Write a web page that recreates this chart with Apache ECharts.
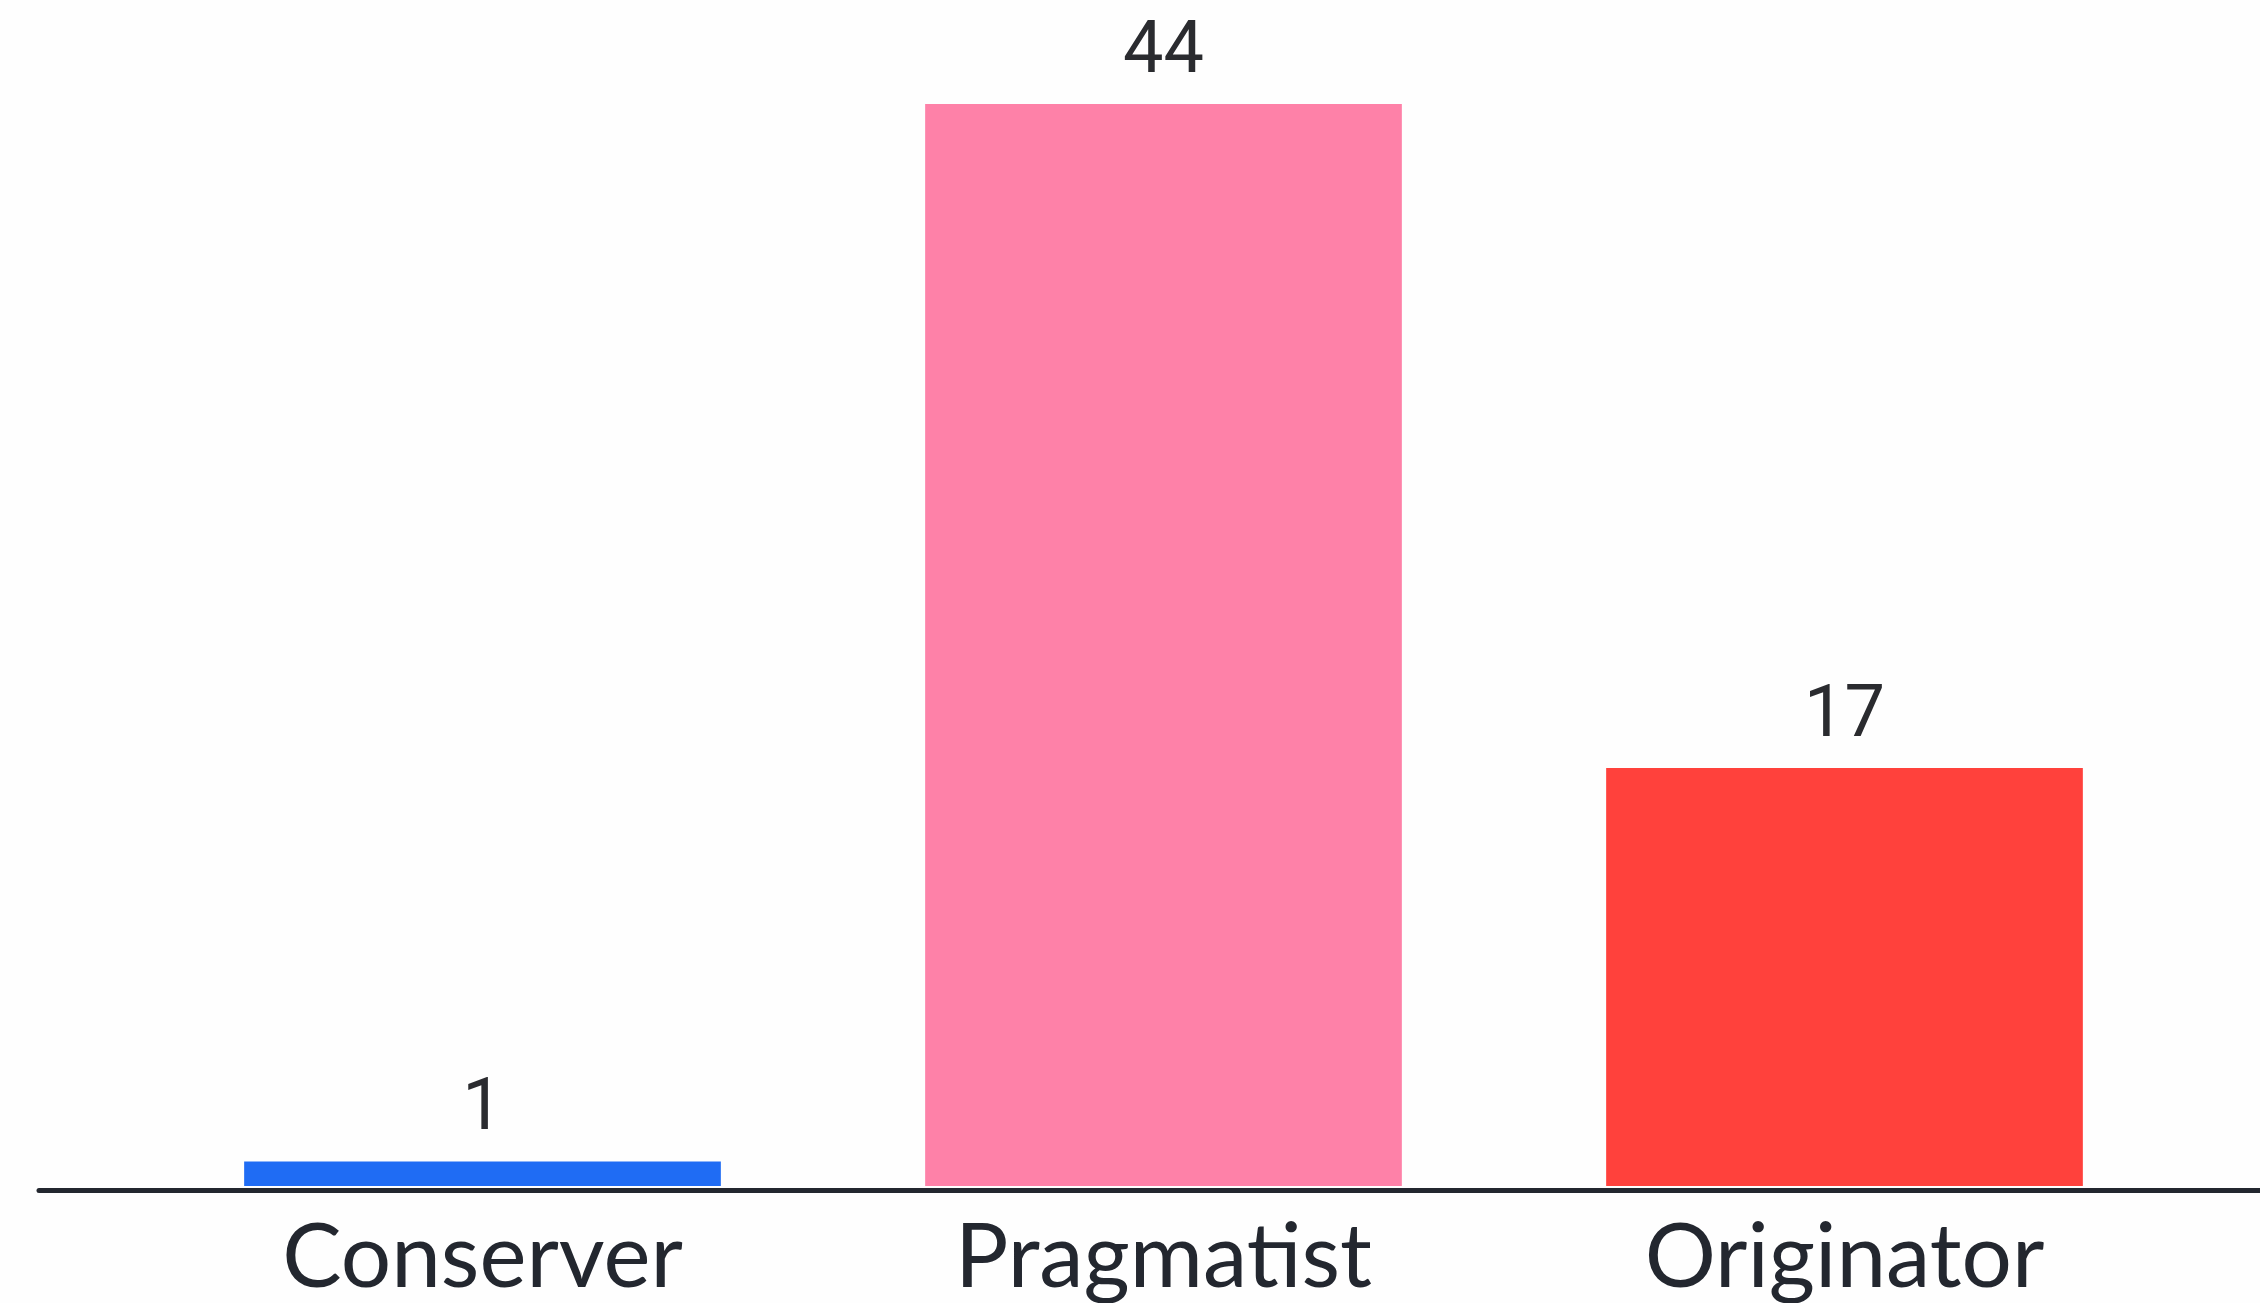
<!DOCTYPE html>
<html><head><meta charset="utf-8">
<script src="https://cdn.jsdelivr.net/npm/echarts@6/dist/echarts.min.js"></script>
<style>html,body{margin:0;padding:0;background:#fefefe}#c{width:2260px;height:1303px}</style>
</head><body><div id="c"></div>
<script>
const categories = ['Conserver', 'Pragmatist', 'Originator'];
const values = [1, 44, 17];
const colors = ['#1f6cf4', '#fe81a8', '#ff413c'];

const chart = echarts.init(document.getElementById('c'));
chart.setOption({
  backgroundColor: '#fefefe',
  animation: false,
  grid: [
    { left: 142, right: 75, top: 104, bottom: 116 },
    { left: 39, right: 0, top: 104, bottom: 113 }
  ],
  xAxis: [
    {
      type: 'category', gridIndex: 0, data: categories,
      axisLine: { show: false }, axisTick: { show: false },
      axisLabel: { margin: 28, fontFamily: 'Lato', fontSize: 89, color: '#23272f' }
    },
    {
      type: 'value', gridIndex: 1, min: 0, max: 1,
      axisLine: { show: true, onZero: false, lineStyle: { color: '#23272f', width: 5 } },
      axisTick: { show: false }, axisLabel: { show: false }, splitLine: { show: false }
    }
  ],
  yAxis: [
    { type: 'value', gridIndex: 0, min: 0, max: 44, show: false },
    { type: 'value', gridIndex: 1, min: 0, max: 1, show: false }
  ],
  series: [{
    type: 'bar', xAxisIndex: 0, yAxisIndex: 0,
    barCategoryGap: '30%',
    data: values.map((v, i) => ({ value: v, itemStyle: { color: colors[i] } })),
    label: {
      show: true, position: 'top', distance: 14,
      fontFamily: 'Roboto', fontSize: 72, color: '#2a2b2f'
    }
  }]
});
</script></body></html>
